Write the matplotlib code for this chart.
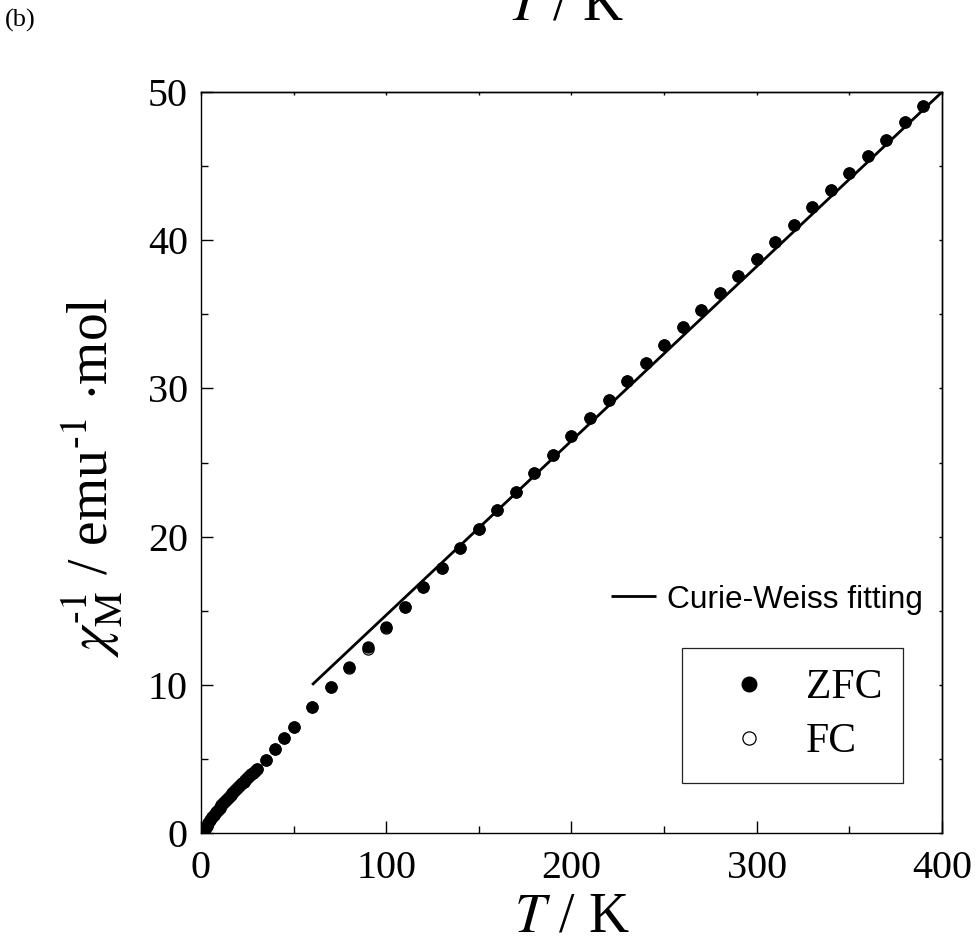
import matplotlib
matplotlib.use('Agg')
import matplotlib.pyplot as plt
from matplotlib.lines import Line2D
from matplotlib.ticker import MultipleLocator

plt.rcParams['font.family'] = ['Liberation Serif', 'DejaVu Serif']
plt.rcParams['mathtext.fontset'] = 'stix'

# ---------------- data ----------------
T_zfc = [2, 3, 4, 5, 6, 7, 8, 9, 10, 11, 12, 13, 14, 15, 16, 17, 18, 19, 20,
         21, 22, 23, 24, 25, 26, 27, 28, 29, 30, 35, 40, 45, 50, 60, 70, 80,
         90, 100, 110, 120, 130, 140, 150, 160, 170, 180, 190, 200, 210, 220,
         230, 240, 250, 260, 270, 280, 290, 300, 310, 320, 330, 340, 350, 360,
         370, 380, 390]
chi_inv_zfc = [0.25, 0.45, 0.65, 0.85, 1.05, 1.22, 1.40, 1.56, 1.71, 1.86,
               2.00, 2.14, 2.28, 2.42, 2.56, 2.69, 2.82, 2.95, 3.08, 3.21,
               3.34, 3.47, 3.60, 3.72, 3.84, 3.96, 4.08, 4.20, 4.32, 4.95,
               5.67, 6.41, 7.13, 8.52, 9.87, 11.22, 12.57, 13.92, 15.27, 16.60,
               17.90, 19.20, 20.50, 21.80, 23.00, 24.30, 25.50, 26.80, 28.00,
               29.20, 30.50, 31.70, 32.93, 34.12, 35.29, 36.46, 37.58, 38.73,
               39.90, 41.05, 42.22, 43.39, 44.51, 45.68, 46.76, 47.95, 49.08]

T_fc = T_zfc
chi_inv_fc = [0.25, 0.45, 0.65, 0.85, 1.05, 1.22, 1.40, 1.56, 1.71, 1.86,
              2.00, 2.14, 2.28, 2.42, 2.56, 2.69, 2.82, 2.95, 3.08, 3.21,
              3.34, 3.47, 3.60, 3.72, 3.84, 3.96, 4.08, 4.20, 4.32, 4.95,
              5.67, 6.41, 7.13, 8.50, 9.84, 11.10, 12.44, 13.84, 15.24, 16.58,
              17.90, 19.20, 20.50, 21.80, 23.00, 24.30, 25.50, 26.80, 28.00,
              29.20, 30.50, 31.70, 32.93, 34.12, 35.29, 36.46, 37.58, 38.73,
              39.90, 41.05, 42.22, 43.39, 44.51, 45.68, 46.76, 47.95, 49.08]

fit_T = [60, 400]
fit_chi_inv = [10, 50]

x_ticks = [0, 100, 200, 300, 400]
y_ticks = [0, 10, 20, 30, 40, 50]
x_tick_labels = ['0', '100', '200', '300', '400']
y_tick_labels = ['0', '10', '20', '30', '40', '50']

# ---------------- figure ----------------
fig = plt.figure(figsize=(9.78, 9.39), dpi=100)
ax = fig.add_axes([0.2055, 0.1129, 0.7577, 0.7891])

ax.plot(T_fc, chi_inv_fc, linestyle='none', marker='o', markersize=8,
        markerfacecolor='white', markeredgecolor='black',
        markeredgewidth=0.9, zorder=2)
ax.plot(T_zfc, chi_inv_zfc, linestyle='none', marker='o', markersize=8,
        markerfacecolor='black', markeredgecolor='black',
        markeredgewidth=0.9, zorder=3)
fit_line, = ax.plot(fit_T, fit_chi_inv, color='black', linewidth=2.0,
                    zorder=4, solid_capstyle='butt')

ax.set_xlim(0, 400)
ax.set_ylim(0, 50)
ax.set_xticks(x_ticks)
ax.set_xticklabels(x_tick_labels)
ax.set_yticks(y_ticks)
ax.set_yticklabels(y_tick_labels)
ax.xaxis.set_minor_locator(MultipleLocator(50))
ax.yaxis.set_minor_locator(MultipleLocator(5))

for sp in ax.spines.values():
    sp.set_linewidth(1.0)

ax.tick_params(axis='both', which='major', direction='in', length=8.5,
               width=1.0, labelsize=28.8)
ax.tick_params(axis='both', which='minor', direction='in', length=5,
               width=1.0)
ax.tick_params(axis='x', which='major', pad=12)
ax.tick_params(axis='y', which='major', pad=9.5)

# short ticks on top and right
secx = ax.secondary_xaxis('top')
secx.set_xticks(x_ticks)
secx.xaxis.set_minor_locator(MultipleLocator(50))
secx.tick_params(which='both', direction='in', length=2.5, width=1.0,
                 labeltop=False)
secx.spines['top'].set_linewidth(1.0)
secy = ax.secondary_yaxis('right')
secy.set_yticks(y_ticks)
secy.yaxis.set_minor_locator(MultipleLocator(5))
secy.tick_params(which='both', direction='in', length=2.5, width=1.0,
                 labelright=False)
secy.spines['right'].set_linewidth(1.0)

# axis labels
fig.text(0.5844, 1 - 932 / 939, r'$T$ / K', fontsize=40, ha='center',
         va='baseline')
fig.text(0.094, 0.492,
         '$\\chi_{\\mathrm{M}}^{\u20101}$ / emu$^{\u20101}$ $\\cdot$mol',
         fontsize=40, rotation=90, ha='center', va='center')

# cut-off label from the panel above, and panel tag
fig.text(0.579, 1 - 20 / 939, r'$T$ / K', fontsize=40, ha='center',
         va='baseline')
fig.text(0.005, 1 - 9 / 939, '(b)', fontsize=19, ha='left', va='top')

# Curie-Weiss legend (no frame, sans font)
leg1 = ax.legend(handles=[fit_line], labels=['Curie-Weiss fitting'],
                 loc='center left', bbox_to_anchor=(0.532, 0.315),
                 frameon=False, borderpad=0, handlelength=1.42,
                 handletextpad=0.35,
                 prop={'family': 'Liberation Sans', 'size': 22.8})
ax.add_artist(leg1)

# ZFC / FC legend
h_zfc = Line2D([], [], linestyle='none', marker='o', markersize=10.5,
               markerfacecolor='black', markeredgecolor='black')
h_fc = Line2D([], [], linestyle='none', marker='o', markersize=9.5,
              markerfacecolor='white', markeredgecolor='black',
              markeredgewidth=0.9)
leg2 = ax.legend(handles=[h_zfc, h_fc], labels=['ZFC', 'FC'],
                 loc='upper left', bbox_to_anchor=(0.6487, 0.2501),
                 frameon=True, fancybox=False, edgecolor='#222222',
                 framealpha=1, borderpad=0.51, handlelength=2.2,
                 handletextpad=0.27, labelspacing=0.37, borderaxespad=0,
                 prop={'family': 'Liberation Serif', 'size': 30})
leg2.get_frame().set_linewidth(0.9)

fig.savefig('out.png', dpi=100)
